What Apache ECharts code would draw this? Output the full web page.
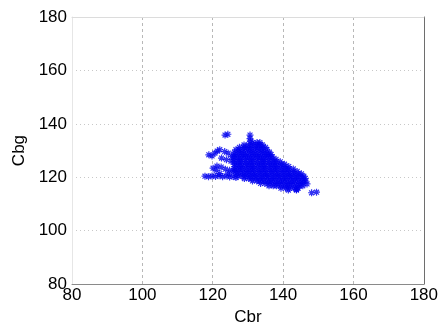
<!DOCTYPE html>
<html>
<head>
<meta charset="utf-8">
<script src="https://cdn.jsdelivr.net/npm/echarts@6/dist/echarts.min.js"></script>
<style>
html, body { margin: 0; padding: 0; background: #fff; }
#chart { width: 441px; height: 331px; }
</style>
</head>
<body>
<div id="chart"></div>
<script>
var axisTicks = [80, 100, 120, 140, 160, 180]

// dense cluster, read row by row (Cbg value of the row, Cbr values along it)
var rowCbg = [133.0, 132.1, 131.2, 130.3, 129.4, 128.5, 127.6, 126.7, 125.8, 124.9, 124.0,
    123.1, 122.2, 121.3, 120.4, 119.5, 118.6, 117.7, 116.8, 115.9, 115.2]
var rowCbr = [
    [131.4, 132.6, 133.4],
    [128.9, 130.1, 131.0, 132.2, 133.3, 134.1],
    [127.6, 128.8, 129.7, 130.9, 132.1, 133.0, 134.2, 135.0],
    [126.6, 127.5, 128.7, 129.9, 130.8, 132.0, 133.2, 134.1, 135.4],
    [126.2, 127.4, 128.3, 129.5, 130.7, 131.6, 132.8, 134.0, 134.9, 136.1],
    [126.1, 127.2, 128.4, 129.3, 130.5, 131.7, 132.6, 133.8, 135.0, 135.8, 136.6],
    [126.0, 127.0, 128.2, 129.4, 130.3, 131.5, 132.7, 133.6, 134.8, 136.0, 136.9],
    [126.0, 127.2, 128.1, 129.3, 130.5, 131.4, 132.6, 133.8, 134.7, 135.9, 137.1, 138.0],
    [126.1, 127.3, 128.2, 129.4, 130.6, 131.5, 132.7, 133.9, 134.8, 136.0, 137.2, 138.1, 139.2],
    [126.2, 127.2, 128.4, 129.6, 130.5, 131.7, 132.9, 133.8, 135.0, 136.2, 137.1, 138.3, 139.5, 140.4],
    [126.2, 127.4, 128.3, 129.5, 130.7, 131.6, 132.8, 134.0, 134.9, 136.1, 137.3, 138.2, 139.4, 140.6, 141.6],
    [126.3, 127.5, 128.5, 129.6, 130.8, 131.7, 132.9, 134.1, 135.0, 136.2, 137.4, 138.3, 139.5, 140.7, 141.6, 142.9],
    [126.4, 127.4, 128.6, 129.8, 130.7, 131.9, 133.1, 134.0, 135.2, 136.4, 137.3, 138.5, 139.7, 140.6, 141.8, 143.0, 144.0],
    [126.6, 127.7, 128.9, 129.9, 131.1, 132.0, 133.2, 134.4, 135.3, 136.5, 137.7, 138.6, 139.8, 141.0, 141.9, 143.1, 144.3, 145.2],
    [127.2, 128.4, 129.3, 130.5, 131.7, 132.6, 133.8, 135.0, 135.9, 137.1, 138.3, 139.2, 140.4, 141.6, 142.5, 143.7, 144.9, 145.9],
    [129.0, 130.2, 131.1, 132.3, 133.5, 134.4, 135.6, 136.8, 137.7, 138.9, 140.1, 141.0, 142.2, 143.4, 144.3, 145.5, 146.3],
    [131.3, 132.5, 133.4, 134.6, 135.8, 136.7, 137.9, 139.1, 140.0, 141.2, 142.4, 143.3, 144.5, 145.6, 146.4],
    [133.6, 134.8, 135.7, 136.9, 138.1, 139.0, 140.2, 141.4, 142.3, 143.5, 144.7, 145.7],
    [136.0, 137.2, 138.1, 139.3, 140.5, 141.4, 142.6, 143.8, 144.7, 145.6],
    [139.4, 140.7, 141.8, 143.1, 144.3],
    [141.5, 143.8]
]

// scattered points around the cluster (arms to the left, strays top and right)
var strayCbr = [123.5, 124.3, 130.6, 130.6, 130.7,
    118.9, 119.8, 120.6, 121.3, 122.0, 123.4, 124.4, 125.4, 122.5, 123.9, 125.2,
    120.1, 121.2, 122.4, 123.6, 124.8, 125.8, 121.0,
    117.8, 118.8, 119.8, 120.8, 121.8, 122.8, 123.8, 124.8, 125.8, 126.6, 122.0, 124.5,
    143.8, 148.1, 149.5, 146.8]
var strayCbg = [135.8, 136.1, 135.8, 134.5, 133.4,
    128.4, 128.0, 129.0, 129.8, 130.3, 129.6, 129.0, 127.8, 127.2, 126.6, 126.0,
    123.4, 124.2, 123.8, 123.0, 122.6, 122.4, 122.6,
    120.4, 120.2, 120.5, 120.3, 120.6, 120.2, 120.5, 120.1, 120.3, 119.9, 121.4, 121.3,
    115.4, 114.2, 114.4, 117.5]

var points = []
rowCbr.forEach(function (xs, i) {
    xs.forEach(function (x) { points.push([x, rowCbg[i]]) })
})
strayCbr.forEach(function (x, i) { points.push([x, strayCbg[i]]) })

var chart = echarts.init(document.getElementById('chart'))
var font = 'Liberation Sans, Arial, sans-serif'

function baseAxis(extra) {
    var a = {
        type: 'value',
        min: 80,
        max: 180,
        interval: 20,
        axisTick: { show: false },
        axisLabel: { show: false },
        splitLine: { show: false }
    }
    for (var k in extra) a[k] = extra[k]
    return a
}

chart.setOption({
    animation: false,
    backgroundColor: '#fff',
    grid: { left: 72, right: 17, top: 17, bottom: 44 },
    xAxis: [
        baseAxis({
            position: 'bottom',
            name: 'Cbr',
            nameLocation: 'middle',
            nameGap: 24,
            nameTextStyle: { color: '#000', fontSize: 17, fontFamily: font },
            axisLine: { lineStyle: { color: '#8a8a8a', width: 1 } },
            axisLabel: {
                show: true, color: '#000', fontSize: 17, fontFamily: font, margin: 3,
                formatter: function (v) { return axisTicks.indexOf(v) >= 0 ? v : '' }
            },
            splitLine: { show: true, lineStyle: { color: '#b8b8b8', type: [3, 3], width: 1 } }
        }),
        baseAxis({
            position: 'top',
            axisLine: { lineStyle: { color: '#dcdcdc', width: 1 } }
        })
    ],
    yAxis: [
        baseAxis({
            position: 'left',
            name: 'Cbg',
            nameLocation: 'middle',
            nameGap: 40,
            nameTextStyle: { color: '#000', fontSize: 17, fontFamily: font },
            axisLine: { lineStyle: { color: '#e6e6e6', width: 1 } },
            axisLabel: {
                show: true, color: '#000', fontSize: 17, fontFamily: font, margin: 5,
                formatter: function (v) { return axisTicks.indexOf(v) >= 0 ? v : '' }
            },
            splitLine: { show: true, lineStyle: { color: '#c8c8c8', type: [1, 3], width: 1 } }
        }),
        baseAxis({
            position: 'right',
            axisLine: { lineStyle: { color: '#6e6e6e', width: 1 } }
        })
    ],
    series: [{
        type: 'scatter',
        xAxisIndex: 0,
        yAxisIndex: 0,
        data: points,
        symbol: 'path://M0,5L10,5M5,0L5,10M1.5,1.5L8.5,8.5M8.5,1.5L1.5,8.5',
        symbolSize: 7,
        itemStyle: { color: 'rgba(0,0,0,0)', borderColor: '#0000ee', borderWidth: 1.2 }
    }]
})
</script>
</body>
</html>
